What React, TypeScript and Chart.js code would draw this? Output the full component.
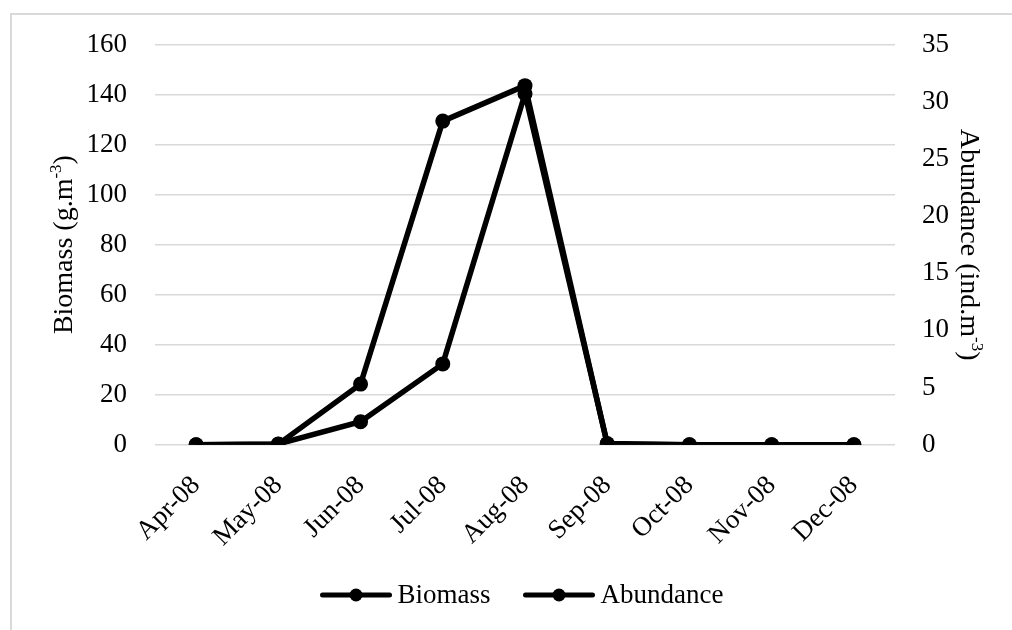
import React, { useEffect, useRef } from 'react';
import { Chart, registerables } from 'chart.js';

Chart.register(...registerables);

const months = ['Apr-08', 'May-08', 'Jun-08', 'Jul-08', 'Aug-08', 'Sep-08', 'Oct-08', 'Nov-08', 'Dec-08'];
const biomass = [0, 0.3, 9.2, 32.3, 140.3, 0.5, 0, 0, 0];
const abundance = [0, 0.05, 5.3, 28.3, 31.4, 0.05, 0, 0, 0];
const biomassAxis = { min: 0, max: 160, step: 20 };
const abundanceAxis = { min: 0, max: 35, step: 5 };
const leftTitle = [{ t: 'Biomass (g.m' }, { t: '-3', sup: true }, { t: ')' }];
const rightTitle = [{ t: 'Abundance (ind.m' }, { t: '-3', sup: true }, { t: ')' }];

const FONT = "'Liberation Serif', 'DejaVu Serif', serif";
const TICK_SIZE = 27;
const TITLE_SIZE = 28;
const GRID = '#d9d9d9';
const INK = '#000000';

type Part = { t: string; sup?: boolean };

function partFont(p: Part, size: number) {
  return `${p.sup ? Math.round(size * 0.62) : size}px ${FONT}`;
}

function richWidth(ctx: CanvasRenderingContext2D, parts: Part[], size: number) {
  let w = 0;
  for (const p of parts) {
    ctx.font = partFont(p, size);
    w += ctx.measureText(p.t).width;
  }
  return w;
}

function drawRich(ctx: CanvasRenderingContext2D, parts: Part[], x: number, y: number, size: number) {
  let cx = x;
  ctx.textAlign = 'left';
  ctx.textBaseline = 'alphabetic';
  for (const p of parts) {
    ctx.font = partFont(p, size);
    ctx.fillText(p.t, cx, p.sup ? y - size * 0.38 : y);
    cx += ctx.measureText(p.t).width;
  }
}

const decorPlugin = {
  id: 'decor',
  beforeDraw(chart: any) {
    const ctx = chart.ctx as CanvasRenderingContext2D;
    ctx.save();
    ctx.fillStyle = GRID;
    ctx.fillRect(10, 13, 2, chart.height - 13);
    ctx.fillRect(10, 13, chart.width - 10, 2);
    ctx.restore();
  },
  afterDraw(chart: any) {
    const ctx = chart.ctx as CanvasRenderingContext2D;
    const area = chart.chartArea;
    const midY = (area.top + area.bottom) / 2;
    ctx.save();
    ctx.fillStyle = INK;
    // left axis title
    ctx.save();
    ctx.translate(72, midY);
    ctx.rotate(-Math.PI / 2);
    const lw = richWidth(ctx, leftTitle, TITLE_SIZE);
    drawRich(ctx, leftTitle, -lw / 2, 0, TITLE_SIZE);
    ctx.restore();
    // right axis title
    ctx.save();
    ctx.translate(961, midY);
    ctx.rotate(Math.PI / 2);
    const rw = richWidth(ctx, rightTitle, TITLE_SIZE);
    drawRich(ctx, rightTitle, -rw / 2, 0, TITLE_SIZE);
    ctx.restore();

    // legend
    const markerW = 71;
    const gapText = 6;
    const gapItems = 33;
    const ly = 595;
    ctx.font = `${TICK_SIZE}px ${FONT}`;
    const items = chart.data.datasets.map((ds: any) => ({
      label: ds.label as string,
      color: ds.borderColor as string,
      w: ctx.measureText(ds.label).width,
    }));
    let total = 0;
    items.forEach((it: any, i: number) => {
      total += markerW + gapText + it.w + (i > 0 ? gapItems : 0);
    });
    let x = (area.left + area.right) / 2 - 3 - total / 2;
    items.forEach((it: any) => {
      ctx.strokeStyle = it.color;
      ctx.fillStyle = it.color;
      ctx.lineWidth = 5;
      ctx.lineCap = 'round';
      ctx.beginPath();
      ctx.moveTo(x + 2, ly);
      ctx.lineTo(x + markerW - 2, ly);
      ctx.stroke();
      ctx.beginPath();
      ctx.arc(x + markerW / 2, ly, 6.5, 0, Math.PI * 2);
      ctx.fill();
      ctx.fillStyle = INK;
      ctx.font = `${TICK_SIZE}px ${FONT}`;
      ctx.textAlign = 'left';
      ctx.textBaseline = 'middle';
      ctx.fillText(it.label, x + markerW + gapText, ly + 1);
      x += markerW + gapText + it.w + gapItems;
    });
    ctx.restore();
  },
};

export default function App() {
  const ref = useRef<HTMLCanvasElement | null>(null);

  useEffect(() => {
    if (!ref.current) return;
    const chart = new Chart(ref.current, {
      type: 'line',
      data: {
        labels: months,
        datasets: [
          {
            label: 'Biomass',
            data: biomass,
            yAxisID: 'y',
            borderColor: INK,
            backgroundColor: INK,
            borderWidth: 5.5,
            pointRadius: 7.5,
            pointBackgroundColor: INK,
            pointBorderWidth: 0,
            tension: 0,
          },
          {
            label: 'Abundance',
            data: abundance,
            yAxisID: 'y1',
            borderColor: INK,
            backgroundColor: INK,
            borderWidth: 5.5,
            pointRadius: 7.5,
            pointBackgroundColor: INK,
            pointBorderWidth: 0,
            tension: 0,
          },
        ],
      },
      options: {
        animation: false,
        responsive: false,
        devicePixelRatio: 1,
        layout: { padding: { top: 44.5, left: 0, right: 0, bottom: 0 } },
        plugins: {
          legend: { display: false },
          tooltip: { enabled: false },
        },
        scales: {
          x: {
            offset: true,
            grid: { display: false },
            border: { display: false },
            ticks: {
              autoSkip: false,
              maxRotation: 45,
              minRotation: 45,
              padding: 17,
              color: INK,
              font: { family: FONT, size: TICK_SIZE },
            },
            afterFit: (s: any) => {
              s.height = 185.3;
            },
          },
          y: {
            position: 'left',
            min: biomassAxis.min,
            max: biomassAxis.max,
            grid: { color: GRID, lineWidth: 1.5, drawTicks: false },
            border: { display: false },
            ticks: {
              stepSize: biomassAxis.step,
              padding: 28,
              color: INK,
              font: { family: FONT, size: TICK_SIZE },
            },
            afterFit: (s: any) => {
              s.width = 155;
            },
          },
          y1: {
            position: 'right',
            min: abundanceAxis.min,
            max: abundanceAxis.max,
            grid: { display: false, drawTicks: false },
            border: { display: false },
            ticks: {
              stepSize: abundanceAxis.step,
              padding: 27,
              color: INK,
              font: { family: FONT, size: TICK_SIZE },
            },
            afterFit: (s: any) => {
              s.width = 117;
            },
          },
        },
      },
      plugins: [decorPlugin],
    } as any);
    return () => chart.destroy();
  }, []);

  return (
    <div style={{ position: 'absolute', left: 0, top: 0, width: 1012, height: 630, background: '#ffffff' }}>
      <canvas ref={ref} width={1012} height={630} style={{ display: 'block', width: 1012, height: 630 }} />
    </div>
  );
}
